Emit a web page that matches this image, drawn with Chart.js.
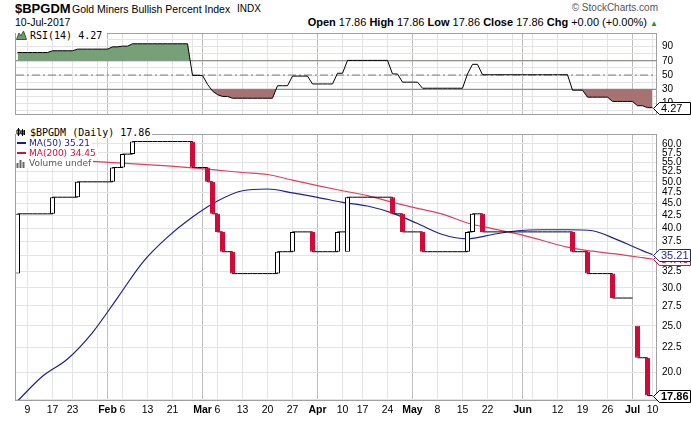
<!DOCTYPE html>
<html lang="en">
<head>
    <meta charset="UTF-8">
    <meta name="viewport" content="width=device-width, initial-scale=1.0">
    <title>$BPGDM - Gold Miners Bullish Percent Index</title>
    <link rel="icon" href="data:,">
    <script src="https://cdn.jsdelivr.net/npm/chart.js"></script>
    <style>
        body { margin: 0; background: #fff; }
        #chart-wrap {
            position: relative; width: 691px; height: 421px; overflow: hidden; background: #fff;
            font-family: "Liberation Sans", Arial, sans-serif; color: #000;
        }
        .txt { position: absolute; white-space: nowrap; line-height: 1; }
        .panel { position: absolute; left: 0; width: 691px; }
        #rsi-panel { top: 24px; height: 101px; }
        #price-panel { top: 125px; height: 296px; }
        .legend {
            position: absolute; z-index: 2; background: #fff; white-space: nowrap;
            display: flex; align-items: center; padding-right: 2px;
        }
        .legend svg { margin-right: 3px; }
        .mono { font-family: "DejaVu Sans Mono", monospace; font-size: 10px; }
        .sans { font-family: "DejaVu Sans", Verdana, sans-serif; font-size: 9px; }
        .hdr b { font-weight: bold; }
    </style>
</head>
<body>
<div id="chart-wrap">
    <!-- header -->
    <div class="txt" style="left:15px; top:2px; font-size:13px; font-weight:bold;">$BPGDM</div>
    <div class="txt" style="left:72px; top:4px; font-size:10.5px;">Gold Miners Bullish Percent Index</div>
    <div class="txt" style="left:237px; top:4px; font-size:10px;">INDX</div>
    <div class="txt" style="right:33px; top:3px; font-size:10px; color:#555;">&copy; StockCharts.com</div>
    <div class="txt" style="left:15px; top:17px; font-size:10.5px;">10-Jul-2017</div>
    <div class="txt hdr" style="right:33px; top:16.5px; font-size:11px;">
        <b>Open</b> 17.86 <b>High</b> 17.86 <b>Low</b> 17.86 <b>Close</b> 17.86 <b>Chg</b> +0.00 (+0.00%) <span style="color:#2e8b2e; font-size:8px;">&#9650;</span>
    </div>

    <div class="panel" id="rsi-panel"><canvas id="rsiChart"></canvas></div>
    <div class="panel" id="price-panel"><canvas id="priceChart"></canvas></div>

    <!-- legends -->
    <div class="legend mono" style="left:16px; top:29px; height:12px; width:89px;">
        <svg width="11" height="10" viewBox="0 0 11 10"><polygon points="0.5,9.5 3,3 5,6 7.5,1 10.5,9.5" fill="#6f9a6f" stroke="#355f35" stroke-width="1"/></svg>
        <span style="font-size:10px;">RSI(14) 4.27</span>
    </div>
    <div class="legend mono" style="left:16px; top:126px; height:12px;">
        <svg width="11" height="10" viewBox="0 0 11 10"><path d="M2.5 1v8M1 3h3v4H1zM6.5 2v7M8.5 3v5M5 4h3v3H5z" fill="none" stroke="#000" stroke-width="1"/></svg>
        <span>$BPGDM (Daily) 17.86</span>
    </div>
    <div class="legend sans" style="left:16px; top:138px; height:10px; color:#1c1c8c;">
        <svg width="10" height="8"><line x1="1" y1="4" x2="10" y2="4" stroke="#1c1c8c" stroke-width="2"/></svg>
        <span>MA(50) 35.21</span>
    </div>
    <div class="legend sans" style="left:16px; top:148px; height:10px; color:#d0103a;">
        <svg width="10" height="8"><line x1="1" y1="4" x2="10" y2="4" stroke="#d0103a" stroke-width="2"/></svg>
        <span>MA(200) 34.45</span>
    </div>
    <div class="legend sans" style="left:16px; top:158px; height:10px; color:#555;">
        <svg width="10" height="9"><path d="M1.5 9V4M4.5 9V1M7.5 9V3" stroke="#666" stroke-width="2"/></svg>
        <span>Volume undef</span>
    </div>
</div>

<script>
// trading calendar
const firstDay = '2017-01-05';
const lastDay = '2017-07-10';
const holidays = ['2017-01-16', '2017-02-20', '2017-04-14', '2017-05-29', '2017-07-04'];

// daily closes, one per trading day from Jan 5 to Jul 10
const closes = [
    42.86, 42.86, 42.86, 42.86, 42.86, 42.86, 42.86, 46.43, 46.43, 46.43,
    46.43, 46.43, 50.00, 50.00, 50.00, 50.00, 50.00, 50.00, 50.00, 53.57,
    53.57, 57.14, 57.14, 60.71, 60.71, 60.71, 60.71, 60.71, 60.71, 60.71,
    60.71, 60.71, 60.71, 60.71, 60.71, 53.57, 53.57, 53.57, 50.00, 42.86,
    39.29, 35.71, 35.71, 32.14, 32.14, 32.14, 32.14, 32.14, 32.14, 32.14,
    32.14, 32.14, 35.71, 35.71, 35.71, 39.29, 39.29, 39.29, 39.29, 35.71,
    35.71, 35.71, 35.71, 35.71, 39.29, 39.29, 46.43, 46.43, 46.43, 46.43,
    46.43, 46.43, 46.43, 46.43, 46.43, 42.86, 42.86, 39.29, 39.29, 39.29,
    39.29, 35.71, 35.71, 35.71, 35.71, 35.71, 35.71, 35.71, 35.71, 35.71,
    39.29, 42.86, 42.86, 39.29, 39.29, 39.29, 39.29, 39.29, 39.29, 39.29,
    39.29, 39.29, 39.29, 39.29, 39.29, 39.29, 39.29, 39.29, 39.29, 39.29,
    39.29, 35.71, 35.71, 35.71, 32.14, 32.14, 32.14, 32.14, 32.14, 28.57,
    28.57, 28.57, 28.57, 28.57, 21.43, 21.43, 17.86, 17.86
];

// days whose open is not the previous close
const gapDates = ['2017-01-05', '2017-04-11', '2017-07-05'];
const gapOpens = [32.14, 35.71, 25.00];

// RSI(14), one per trading day
const rsi = [
    81.5, 81.5, 81.5, 81.5, 81.5, 81.5, 81.5, 84.0, 84.0, 84.0,
    84.0, 84.0, 86.3, 86.3, 86.3, 86.3, 86.3, 86.3, 86.3, 89.5,
    89.5, 90.5, 90.5, 93.8, 93.8, 93.8, 93.8, 93.8, 93.8, 93.8,
    93.8, 93.8, 93.8, 93.8, 93.8, 49.5, 49.5, 49.5, 37.0, 27.5,
    22.5, 20.0, 20.0, 17.5, 17.5, 17.5, 17.5, 17.5, 17.5, 17.5,
    17.5, 17.5, 35.0, 35.0, 35.0, 48.5, 48.5, 48.5, 48.5, 37.5,
    37.5, 37.5, 37.5, 37.5, 52.5, 52.5, 70.5, 70.5, 70.5, 70.5,
    70.5, 70.5, 70.5, 70.5, 70.5, 51.5, 51.5, 40.0, 40.0, 40.0,
    40.0, 31.5, 31.5, 31.5, 31.5, 31.5, 31.5, 31.5, 31.5, 31.5,
    51.5, 65.0, 65.0, 50.4, 50.4, 50.4, 50.4, 50.4, 50.4, 50.4,
    50.4, 50.4, 50.4, 50.4, 50.4, 50.4, 50.4, 50.4, 50.4, 50.4,
    50.4, 28.8, 28.8, 28.8, 19.0, 19.0, 19.0, 19.0, 19.0, 13.0,
    13.0, 13.0, 13.0, 13.0, 7.0, 7.0, 4.27, 4.27
];
const rsiLevels = [70, 50, 30];

// moving averages, read weekly
const maDates = [
    '2017-01-05', '2017-01-12', '2017-01-20', '2017-01-27', '2017-02-03', '2017-02-10', '2017-02-17',
    '2017-02-27', '2017-03-06', '2017-03-13', '2017-03-20', '2017-03-27', '2017-04-03', '2017-04-10',
    '2017-04-18', '2017-04-25', '2017-05-02', '2017-05-09', '2017-05-16', '2017-05-23', '2017-05-31',
    '2017-06-07', '2017-06-14', '2017-06-21', '2017-06-28', '2017-07-06', '2017-07-10'
];
const ma50 = [17.4, 19.6, 21.3, 24.2, 28.6, 33.9, 38.3, 42.2, 45.6, 47.9, 48.3, 47.4, 46.4, 45.3,
              44.5, 43.0, 40.9, 38.8, 38.0, 38.8, 39.5, 39.7, 39.7, 39.5, 37.8, 35.9, 35.21];
const ma200 = [56.3, 55.9, 55.5, 55.2, 54.8, 54.4, 54.0, 53.5, 52.9, 52.3, 51.8, 50.4, 49.1, 47.9,
               46.8, 45.3, 44.0, 42.8, 41.0, 39.9, 38.9, 37.7, 36.5, 35.8, 35.3, 34.7, 34.45];

// axis ticks
const tickDates = [
    '2017-01-09', '2017-01-17', '2017-01-23', '2017-01-30', '2017-02-01', '2017-02-06', '2017-02-13',
    '2017-02-21', '2017-02-27', '2017-03-01', '2017-03-06', '2017-03-13', '2017-03-20', '2017-03-27',
    '2017-04-03', '2017-04-10', '2017-04-17', '2017-04-24', '2017-05-01', '2017-05-08', '2017-05-15',
    '2017-05-22', '2017-05-30', '2017-06-01', '2017-06-05', '2017-06-12', '2017-06-19', '2017-06-26',
    '2017-07-03', '2017-07-10'
];
const tickLabels = ['9', '17', '23', '', 'Feb', '6', '13', '21', '', 'Mar', '6', '13', '20', '27',
                    'Apr', '10', '17', '24', 'May', '8', '15', '22', '', 'Jun', '', '12', '19', '26',
                    'Jul', '10'];
const priceTicks = [17.5, 20, 22.5, 25, 27.5, 30, 32.5, 35, 37.5, 40, 42.5, 45, 47.5, 50, 52.5, 55, 57.5, 60];
const rsiTicks = [0, 10, 20, 30, 40, 50, 60, 70, 80, 90, 100];
const rsiTickLabels = [10, 30, 50, 70, 90];

// ---------------------------------------------------------------

function tradingDays(from, to, skip) {
    const out = [];
    const d = new Date(from + 'T00:00:00Z');
    const end = new Date(to + 'T00:00:00Z');
    while (d <= end) {
        const iso = d.toISOString().slice(0, 10);
        const wd = d.getUTCDay();
        if (wd !== 0 && wd !== 6 && !skip.includes(iso)) out.push(iso);
        d.setUTCDate(d.getUTCDate() + 1);
    }
    return out;
}

const days = tradingDays(firstDay, lastDay, holidays);
const dayIndex = iso => days.indexOf(iso);

const opens = closes.map((c, i) => {
    const g = gapDates.indexOf(days[i]);
    return g >= 0 ? gapOpens[g] : closes[i - 1];
});

const upCandles = [];
const downCandles = [];
closes.forEach((c, i) => {
    if (opens[i] === c) return;
    (c > opens[i] ? upCandles : downCandles).push({ x: i, y: [opens[i], c] });
});

const closePoints = closes.map((c, i) => ({ x: i, y: c }));
const rsiPoints = rsi.map((v, i) => ({ x: i, y: v }));
const ma50Points = maDates.map((d, k) => ({ x: dayIndex(d), y: ma50[k] }));
const ma200Points = maDates.map((d, k) => ({ x: dayIndex(d), y: ma200[k] }));

const tickIdx = tickDates.map(dayIndex);
const isMonth = tickLabels.map(l => /^[A-Z]/.test(l));

const xMin = -0.3;
const xMax = 127.9;
const FONT = "'Liberation Sans', Arial, sans-serif";
const RED = '#d20a3a';
const BLUE = '#1f1f96';

// plot border
const frame = {
    id: 'frame',
    afterDatasetsDraw(chart) {
        const { ctx, chartArea: a } = chart;
        ctx.save();
        ctx.strokeStyle = '#a0a0a0';
        ctx.lineWidth = 1;
        ctx.strokeRect(a.left - 0.5, a.top - 0.5, a.right - a.left, a.bottom - a.top);
        ctx.restore();
    }
};

// last-value tags on the right axis
const tags = {
    id: 'tags',
    afterDraw(chart, args, opts) {
        const { ctx, chartArea: a } = chart;
        const scale = chart.scales.y;
        (opts.items || []).forEach(t => {
            const y = Math.round(scale.getPixelForValue(t.value)) + 0.5;
            const x0 = a.right - 3.5, x1 = a.right + 2.5, x2 = a.right + 33.5, h = 6;
            ctx.save();
            ctx.beginPath();
            ctx.moveTo(x0, y);
            ctx.lineTo(x1, y - h);
            ctx.lineTo(x2, y - h);
            ctx.lineTo(x2, y + h);
            ctx.lineTo(x1, y + h);
            ctx.closePath();
            ctx.fillStyle = '#fff';
            ctx.fill();
            ctx.strokeStyle = t.color;
            ctx.lineWidth = 1;
            ctx.stroke();
            ctx.fillStyle = t.color;
            ctx.font = (t.bold ? 'bold ' : '') + '11px ' + FONT;
            ctx.textBaseline = 'middle';
            ctx.textAlign = 'left';
            ctx.fillText(t.text, x1 + 1.5, y + 0.5);
            ctx.restore();
        });
    }
};

function xAxis(showLabels) {
    return {
        type: 'linear',
        min: xMin,
        max: xMax,
        offset: false,
        afterBuildTicks: s => { s.ticks = tickIdx.map(v => ({ value: v })); },
        afterFit: s => { s.height = showLabels ? 20 : 0; },
        grid: { color: c => isMonth[c.index] ? '#bdbdbd' : '#e3e3e3', drawTicks: false, offset: false },
        border: { display: false },
        ticks: {
            display: showLabels,
            autoSkip: false,
            maxRotation: 0,
            padding: 3,
            color: '#000',
            font: c => ({ family: FONT, size: 10.5, weight: isMonth[c.index] ? 'bold' : 'normal' }),
            callback: (v, i) => tickLabels[i]
        }
    };
}

const baseOptions = {
    responsive: true,
    maintainAspectRatio: false,
    animation: false,
    events: []
};

// RSI panel
new Chart(document.getElementById('rsiChart'), {
    type: 'line',
    data: {
        datasets: [
            {
                data: rsiPoints,
                borderColor: '#000',
                borderWidth: 1,
                pointRadius: 0,
                fill: { target: { value: 70 }, above: '#76a076', below: 'rgba(0,0,0,0)' },
                order: 0
            },
            ...rsiLevels.map(l => ({
                data: [{ x: xMin, y: l }, { x: xMax, y: l }],
                borderColor: '#7a7a7a',
                borderWidth: 1,
                borderDash: l === 50 ? [8, 3, 2, 3] : [],
                pointRadius: 0,
                fill: false,
                order: 1
            })),
            {
                data: rsiPoints,
                borderColor: 'rgba(0,0,0,0)',
                borderWidth: 1,
                pointRadius: 0,
                fill: { target: { value: 30 }, above: 'rgba(0,0,0,0)', below: '#a87272' },
                order: 3
            }
        ]
    },
    options: {
        ...baseOptions,
        layout: { padding: { left: 16, top: 4, right: 0, bottom: 0 } },
        plugins: {
            legend: { display: false },
            tooltip: { enabled: false },
            tags: { items: [{ value: 4.27, text: '4.27', color: '#000' }] }
        },
        scales: {
            x: xAxis(false),
            y: {
                position: 'right',
                min: -6,
                max: 107.5,
                afterBuildTicks: s => { s.ticks = rsiTicks.map(v => ({ value: v })); },
                afterFit: s => { s.width = 34; },
                grid: { color: '#e3e3e3', drawTicks: false },
                border: { display: false },
                ticks: {
                    autoSkip: false,
                    padding: 5,
                    color: '#000',
                    font: { family: FONT, size: 10, lineHeight: 1 },
                    callback: v => rsiTickLabels.includes(v) ? String(v) : ''
                }
            }
        }
    },
    plugins: [frame, tags]
});

// price panel
new Chart(document.getElementById('priceChart'), {
    type: 'bar',
    data: {
        datasets: [
            {
                type: 'bar',
                data: downCandles,
                backgroundColor: RED,
                borderColor: RED,
                borderWidth: 1,
                borderSkipped: false,
                barThickness: 5,
                stack: 'candles',
                inflateAmount: 0,
                order: 0
            },
            {
                type: 'bar',
                data: upCandles,
                backgroundColor: '#fff',
                borderColor: '#000',
                borderWidth: 1,
                borderSkipped: false,
                barThickness: 5,
                stack: 'candles',
                inflateAmount: 0,
                order: 0
            },
            {
                type: 'line',
                data: closePoints,
                stepped: 'before',
                borderColor: '#000',
                borderWidth: 1,
                pointRadius: 0,
                fill: false,
                segment: {
                    borderColor: c => {
                        const i = c.p1DataIndex;
                        const prev = closes[i - 1];
                        const lo = Math.min(opens[i], closes[i]), hi = Math.max(opens[i], closes[i]);
                        return (prev < lo || prev > hi) ? 'rgba(0,0,0,0)' : undefined;
                    }
                },
                order: 1
            },
            {
                type: 'line',
                data: ma200Points,
                borderColor: '#e0405e',
                borderWidth: 1.2,
                pointRadius: 0,
                cubicInterpolationMode: 'monotone',
                fill: false,
                order: 2
            },
            {
                type: 'line',
                data: ma50Points,
                borderColor: BLUE,
                borderWidth: 1.2,
                pointRadius: 0,
                cubicInterpolationMode: 'monotone',
                fill: false,
                order: 2
            }
        ]
    },
    options: {
        ...baseOptions,
        layout: { padding: { left: 16, top: 0, right: 0, bottom: 0 } },
        plugins: {
            legend: { display: false },
            tooltip: { enabled: false },
            tags: {
                items: [
                    { value: 34.45, text: '34.45', color: '#d0103a' },
                    { value: 35.21, text: '35.21', color: BLUE },
                    { value: 17.86, text: '17.86', color: '#000', bold: true }
                ]
            }
        },
        scales: {
            x: xAxis(true),
            y: {
                type: 'logarithmic',
                position: 'right',
                min: 17.40,
                max: 62.65,
                bounds: 'data',
                stacked: false,
                afterBuildTicks: s => { s.ticks = priceTicks.map(v => ({ value: v })); },
                afterFit: s => { s.width = 34; },
                grid: { color: '#e3e3e3', drawTicks: false },
                border: { display: false },
                ticks: {
                    autoSkip: false,
                    padding: 5,
                    color: '#000',
                    font: { family: FONT, size: 10, lineHeight: 1 },
                    callback: v => Number(v).toFixed(1)
                }
            }
        }
    },
    plugins: [frame, tags]
});
</script>
</body>
</html>
